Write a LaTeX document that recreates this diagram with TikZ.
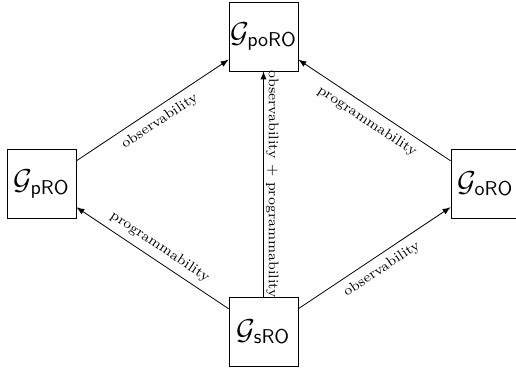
\documentclass[tikz,border=0pt]{standalone}
\usepackage{amsmath}
\begin{document}
\begin{tikzpicture}[>=latex,
   every node/.style={font=\scriptsize},
   model/.style={draw, minimum size=34.5pt, inner sep=0pt, font=\Large}]
   \useasboundingbox (-131.75pt,-91.75pt) rectangle (126.25pt,92pt);
   % the four models
   \node[model] (poro) at (   0pt, 73.75pt) {$\mathcal{G}_{\mathsf{poRO}}$};
   \node[model] (pro)  at (-111pt,     0pt) {$\mathcal{G}_{\mathsf{pRO}}$};
   \node[model] (oro)  at ( 111pt,     0pt) {$\mathcal{G}_{\mathsf{oRO}}$};
   \node[model] (sro)  at (   0pt,   -74pt) {$\mathcal{G}_{\mathsf{sRO}}$};
   % relations
   \draw[->] (pro) -- node[below,sloped] {observability} (poro);
   \draw[->] (oro) -- node[below,sloped] {programmability} (poro);
   \draw[->] (sro) -- node[above,sloped] {programmability} (pro);
   \draw[->] (sro) -- node[below,sloped] {observability} (oro);
   \draw[<-] (poro) -- node[above,sloped,inner sep=1pt] {observability + programmability} (sro);
\end{tikzpicture}
\end{document}
